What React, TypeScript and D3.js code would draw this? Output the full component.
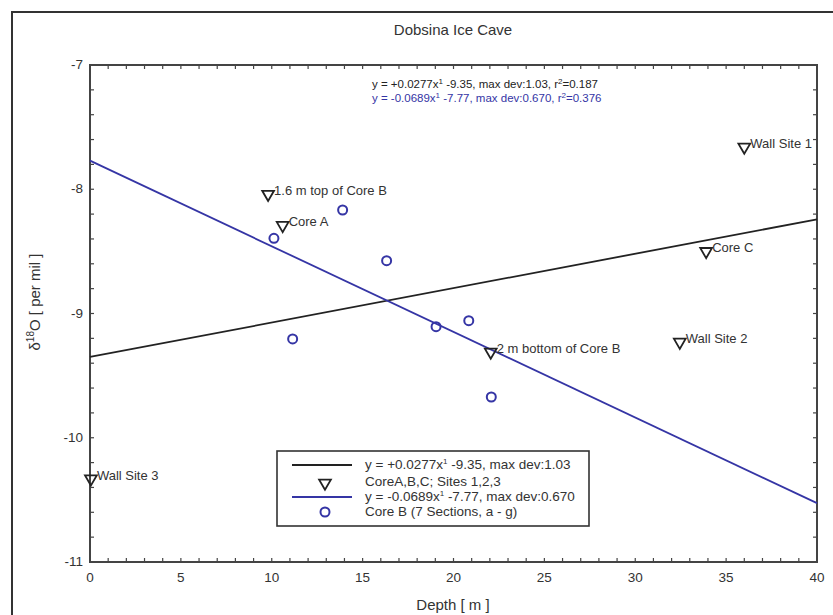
import React from 'react';
import { useRef, useEffect } from 'react';
import * as d3 from 'd3';

// Triangles: cores and wall sites
const siteLabels = ["Wall Site 1", "1.6 m top of Core B", "Core A", "Core C", "Wall Site 2", "2 m bottom of Core B", "Wall Site 3"];
const siteDepth = [36.0, 9.8, 10.6, 33.9, 32.45, 22.05, 0.05];
const siteD18O = [-7.66, -8.04, -8.29, -8.50, -9.23, -9.31, -10.33];

// Circles: Core B sections a - g
const coreBDepth = [13.9, 10.12, 16.32, 11.15, 19.04, 20.84, 22.08];
const coreBD18O = [-8.167, -8.395, -8.575, -9.205, -9.106, -9.058, -9.672];

// Regression fits
const fitBlack = { slope: 0.0277, intercept: -9.35 };
const fitBlue = { slope: -0.0689, intercept: -7.77 };

const xTicks = [0, 5, 10, 15, 20, 25, 30, 35, 40];
const yTicks = [-7, -8, -9, -10, -11];

const chartStyle = {
    margin: { top: 65, left: 90, bottom: 53, right: 16 },
    font: "Arial, 'Liberation Sans', sans-serif",
    textColor: "#333",
    axisColor: "#444",
    blue: "#3535a5",
    black: "#222",
};

const width = 833;
const height = 615;

const App: React.FC = () => {
    const svgRef = useRef<SVGSVGElement>(null);

    useEffect(() => {
        if (!svgRef.current) return;
        const m = chartStyle.margin;
        const svg = d3.select(svgRef.current);
        svg.selectAll("*").remove();

        const x = d3.scaleLinear().domain([0, 40]).range([m.left, width - m.right]);
        const y = d3.scaleLinear().domain([-11, -7]).range([height - m.bottom, m.top]);

        // outer frame: only top and left edges are on the page
        svg.append("path")
            .attr("d", `M12,${height} V12 H${width}`)
            .attr("fill", "none").attr("stroke", "#333").attr("stroke-width", 2);

        // title
        svg.append("text")
            .attr("x", 453).attr("y", 35)
            .attr("text-anchor", "middle")
            .style("font-family", chartStyle.font).style("font-size", "15px")
            .attr("fill", chartStyle.textColor)
            .text("Dobsina Ice Cave");

        // inward minor ticks on all four sides
        const ticksG = svg.append("g").attr("stroke", chartStyle.axisColor).attr("stroke-width", 1.2);
        const xMinor = d3.range(0, 41, 1);
        const yMinor = d3.range(-11, -6.99, 0.2);
        const tl = 4;
        xMinor.forEach(v => {
            ticksG.append("line").attr("x1", x(v)).attr("x2", x(v)).attr("y1", y(-11)).attr("y2", y(-11) - tl);
            ticksG.append("line").attr("x1", x(v)).attr("x2", x(v)).attr("y1", y(-7)).attr("y2", y(-7) + tl);
        });
        yMinor.forEach(v => {
            ticksG.append("line").attr("x1", x(0)).attr("x2", x(0) + tl).attr("y1", y(v)).attr("y2", y(v));
            ticksG.append("line").attr("x1", x(40)).attr("x2", x(40) - tl).attr("y1", y(v)).attr("y2", y(v));
        });

        // plot box
        svg.append("rect")
            .attr("x", x(0)).attr("y", y(-7))
            .attr("width", x(40) - x(0)).attr("height", y(-11) - y(-7))
            .attr("fill", "none").attr("stroke", chartStyle.axisColor).attr("stroke-width", 2);

        // tick labels
        svg.append("g").selectAll("text").data(xTicks).join("text")
            .attr("x", d => x(d)).attr("y", y(-11) + 20)
            .attr("text-anchor", "middle")
            .style("font-family", chartStyle.font).style("font-size", "13.5px")
            .attr("fill", chartStyle.textColor)
            .text(d => d);
        svg.append("g").selectAll("text").data(yTicks).join("text")
            .attr("x", x(0) - 7).attr("y", d => y(d) + 4)
            .attr("text-anchor", "end")
            .style("font-family", chartStyle.font).style("font-size", "13.5px")
            .attr("fill", chartStyle.textColor)
            .text(d => d);

        // axis titles
        svg.append("text")
            .attr("x", 453).attr("y", 610)
            .attr("text-anchor", "middle")
            .style("font-family", chartStyle.font).style("font-size", "15px")
            .attr("fill", chartStyle.textColor)
            .text("Depth [ m ]");

        const yl = svg.append("text")
            .attr("transform", `translate(40, 302) rotate(-90)`)
            .attr("text-anchor", "middle")
            .style("font-family", chartStyle.font).style("font-size", "15px")
            .attr("fill", chartStyle.textColor);
        yl.append("tspan").text("δ");
        yl.append("tspan").attr("dy", -6).style("font-size", "10px").text("18");
        yl.append("tspan").attr("dy", 6).text("O [ per mil ]");

        // regression lines
        const line = d3.line<number>();
        [fitBlack, fitBlue].forEach((f, i) => {
            svg.append("path")
                .datum([0, 40])
                .attr("fill", "none")
                .attr("stroke", i === 0 ? chartStyle.black : chartStyle.blue)
                .attr("stroke-width", 1.8)
                .attr("d", line.x(d => x(d)).y(d => y(f.slope * d + f.intercept)));
        });

        // fit annotations
        const ann = (yy: number, color: string, eq: string, rest: string, r2: string) => {
            const t = svg.append("text")
                .attr("x", 372).attr("y", yy)
                .style("font-family", chartStyle.font).style("font-size", "11.5px")
                .attr("fill", color);
            t.append("tspan").text(eq);
            t.append("tspan").attr("dy", -4).style("font-size", "8px").text("1");
            t.append("tspan").attr("dy", 4).text(rest);
            t.append("tspan").attr("dy", -4).style("font-size", "8px").text("2");
            t.append("tspan").attr("dy", 4).text(r2);
        };
        ann(88, chartStyle.black, "y = +0.0277x", " -9.35, max dev:1.03, r", "=0.187");
        ann(102, chartStyle.blue, "y = -0.0689x", " -7.77, max dev:0.670, r", "=0.376");

        const tri = d3.symbol().type(d3.symbolTriangle).size(60);

        // triangles + labels
        const sites = siteLabels.map((l, i) => ({ label: l, depth: siteDepth[i], v: siteD18O[i] }));
        const sg = svg.append("g").selectAll("g").data(sites).join("g")
            .attr("transform", d => `translate(${x(d.depth)},${y(d.v)})`);
        sg.append("path")
            .attr("d", tri)
            .attr("transform", "rotate(180)")
            .attr("fill", "none").attr("stroke", chartStyle.black).attr("stroke-width", 1.8);
        sg.append("text")
            .attr("x", 6).attr("y", 1)
            .style("font-family", chartStyle.font).style("font-size", "13px")
            .attr("fill", chartStyle.textColor)
            .text(d => d.label);

        // Core B circles
        svg.append("g").selectAll("circle").data(coreBDepth.map((d, i) => ({ d, v: coreBD18O[i] }))).join("circle")
            .attr("cx", p => x(p.d)).attr("cy", p => y(p.v)).attr("r", 4.5)
            .attr("fill", "none").attr("stroke", chartStyle.blue).attr("stroke-width", 2);

        // legend
        const lg = svg.append("g").attr("transform", "translate(277,451)");
        lg.append("rect").attr("width", 312).attr("height", 75)
            .attr("fill", "#fff").attr("stroke", "#333").attr("stroke-width", 1.6);
        const legendRows = [
            { y: 14, text: "y = +0.0277x", sup: "1", rest: " -9.35, max dev:1.03" },
            { y: 31, text: "CoreA,B,C; Sites 1,2,3", sup: "", rest: "" },
            { y: 46, text: "y = -0.0689x", sup: "1", rest: " -7.77, max dev:0.670" },
            { y: 61, text: "Core B (7 Sections, a - g)", sup: "", rest: "" },
        ];
        legendRows.forEach(r => {
            const t = lg.append("text").attr("x", 88).attr("y", r.y + 4)
                .style("font-family", chartStyle.font).style("font-size", "13.5px")
                .attr("fill", chartStyle.textColor);
            t.append("tspan").text(r.text);
            if (r.sup) {
                t.append("tspan").attr("dy", -5).style("font-size", "8px").text(r.sup);
                t.append("tspan").attr("dy", 5).text(r.rest);
            }
        });
        lg.append("line").attr("x1", 15).attr("x2", 75).attr("y1", 14).attr("y2", 14)
            .attr("stroke", chartStyle.black).attr("stroke-width", 1.8);
        lg.append("path").attr("d", tri).attr("transform", "translate(48,32) rotate(180)")
            .attr("fill", "none").attr("stroke", chartStyle.black).attr("stroke-width", 1.8);
        lg.append("line").attr("x1", 15).attr("x2", 75).attr("y1", 46).attr("y2", 46)
            .attr("stroke", chartStyle.blue).attr("stroke-width", 1.8);
        lg.append("circle").attr("cx", 48).attr("cy", 61).attr("r", 4.5)
            .attr("fill", "none").attr("stroke", chartStyle.blue).attr("stroke-width", 2);
    }, []);

    return (
        <svg ref={svgRef} width={width} height={height}
            style={{ position: "absolute", left: 0, top: 0, background: "#fff", overflow: "hidden" }} />
    );
};

export default App;
